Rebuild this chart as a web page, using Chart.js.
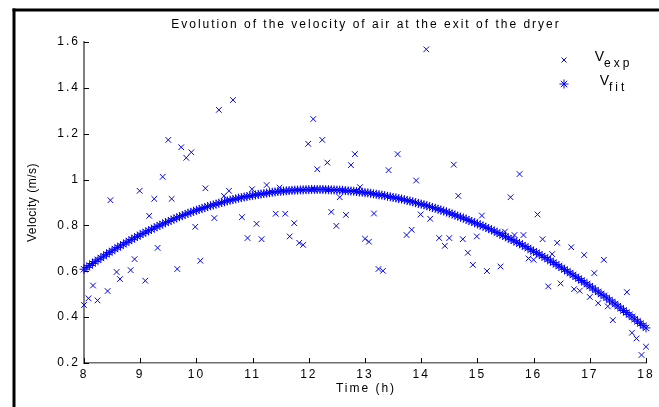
<!DOCTYPE html>
<html lang="en">
    <head>
        <meta charset="UTF-8" />
        <title>Evolution of the velocity of air at the exit of the dryer</title>
        <script src="https://cdn.jsdelivr.net/npm/chart.js"></script>
        <style>
            body { margin: 0; background: #fff; }
            canvas { display: block; }
        </style>
    </head>
    <body>
        <canvas id="velocidad" width="659" height="407"></canvas>

        <script>
            // Medidas experimentales (hora, velocidad en m/s)
            const horasExp = [
                8.00, 8.08, 8.16, 8.24, 8.42, 8.47, 8.58, 8.64, 8.83, 8.90,
                8.99, 9.09, 9.16, 9.25, 9.31, 9.40, 9.50, 9.56, 9.66, 9.73,
                9.82, 9.91, 9.98, 10.07, 10.16, 10.32, 10.40, 10.49, 10.58, 10.65,
                10.81, 10.91, 10.99, 11.07, 11.16, 11.25, 11.41, 11.48, 11.58, 11.66,
                11.74, 11.83, 11.90, 11.99, 12.08, 12.15, 12.24, 12.33, 12.40, 12.49,
                12.55, 12.66, 12.75, 12.82, 12.91, 13.00, 13.07, 13.16, 13.24, 13.32,
                13.42, 13.58, 13.74, 13.83, 13.91, 13.99, 14.09, 14.16, 14.32, 14.42,
                14.50, 14.58, 14.66, 14.74, 14.83, 14.92, 14.99, 15.08, 15.17, 15.41,
                15.49, 15.59, 15.66, 15.75, 15.82, 15.91, 16.00, 16.07, 16.16, 16.26,
                16.33, 16.42, 16.48, 16.67, 16.72, 16.82, 16.90, 17.00, 17.08, 17.15,
                17.25, 17.32, 17.41, 17.66, 17.75, 17.83, 17.92, 18.00
            ];
            const velExp = [
                0.453, 0.482, 0.538, 0.473, 0.514, 0.910, 0.597, 0.566, 0.605, 0.653,
                0.951, 0.559, 0.842, 0.916, 0.702, 1.012, 1.173, 0.916, 0.610, 1.141,
                1.095, 1.119, 0.794, 0.646, 0.962, 0.832, 1.304, 0.929, 0.951, 1.347,
                0.836, 0.745, 0.958, 0.807, 0.740, 0.976, 0.851, 0.965, 0.851, 0.752,
                0.810, 0.724, 0.715, 1.156, 1.264, 1.045, 1.173, 1.074, 0.859, 0.798,
                0.923, 0.846, 1.063, 1.111, 0.967, 0.742, 0.729, 0.852, 0.610, 0.602,
                1.041, 1.111, 0.758, 0.781, 0.996, 0.848, 1.568, 0.829, 0.745, 0.711,
                0.745, 1.065, 0.929, 0.740, 0.681, 0.628, 0.752, 0.843, 0.601, 0.621,
                0.773, 0.923, 0.758, 1.024, 0.758, 0.656, 0.650, 0.848, 0.740, 0.534,
                0.675, 0.724, 0.547, 0.705, 0.522, 0.515, 0.671, 0.488, 0.592, 0.461,
                0.650, 0.447, 0.387, 0.509, 0.332, 0.307, 0.235, 0.271
            ];

            // Curva ajustada, cada 3 minutos
            const horasAjuste = [
                8.00, 8.05, 8.10, 8.15, 8.20, 8.25, 8.30, 8.35, 8.40, 8.45, 8.50, 8.55, 8.60, 8.65, 8.70, 8.75, 8.80, 8.85, 8.90, 8.95,
                9.00, 9.05, 9.10, 9.15, 9.20, 9.25, 9.30, 9.35, 9.40, 9.45, 9.50, 9.55, 9.60, 9.65, 9.70, 9.75, 9.80, 9.85, 9.90, 9.95,
                10.00, 10.05, 10.10, 10.15, 10.20, 10.25, 10.30, 10.35, 10.40, 10.45, 10.50, 10.55, 10.60, 10.65, 10.70, 10.75, 10.80, 10.85, 10.90, 10.95,
                11.00, 11.05, 11.10, 11.15, 11.20, 11.25, 11.30, 11.35, 11.40, 11.45, 11.50, 11.55, 11.60, 11.65, 11.70, 11.75, 11.80, 11.85, 11.90, 11.95,
                12.00, 12.05, 12.10, 12.15, 12.20, 12.25, 12.30, 12.35, 12.40, 12.45, 12.50, 12.55, 12.60, 12.65, 12.70, 12.75, 12.80, 12.85, 12.90, 12.95,
                13.00, 13.05, 13.10, 13.15, 13.20, 13.25, 13.30, 13.35, 13.40, 13.45, 13.50, 13.55, 13.60, 13.65, 13.70, 13.75, 13.80, 13.85, 13.90, 13.95,
                14.00, 14.05, 14.10, 14.15, 14.20, 14.25, 14.30, 14.35, 14.40, 14.45, 14.50, 14.55, 14.60, 14.65, 14.70, 14.75, 14.80, 14.85, 14.90, 14.95,
                15.00, 15.05, 15.10, 15.15, 15.20, 15.25, 15.30, 15.35, 15.40, 15.45, 15.50, 15.55, 15.60, 15.65, 15.70, 15.75, 15.80, 15.85, 15.90, 15.95,
                16.00, 16.05, 16.10, 16.15, 16.20, 16.25, 16.30, 16.35, 16.40, 16.45, 16.50, 16.55, 16.60, 16.65, 16.70, 16.75, 16.80, 16.85, 16.90, 16.95,
                17.00, 17.05, 17.10, 17.15, 17.20, 17.25, 17.30, 17.35, 17.40, 17.45, 17.50, 17.55, 17.60, 17.65, 17.70, 17.75, 17.80, 17.85, 17.90, 17.95,
                18.00
            ];
            const velAjuste = [
                0.609, 0.617, 0.625, 0.634, 0.642, 0.650, 0.658, 0.666, 0.674, 0.682, 0.689, 0.697, 0.704, 0.711, 0.718, 0.725, 0.732, 0.739, 0.746, 0.752,
                0.759, 0.765, 0.771, 0.777, 0.783, 0.789, 0.795, 0.801, 0.806, 0.812, 0.817, 0.823, 0.828, 0.833, 0.838, 0.843, 0.848, 0.853, 0.857, 0.862,
                0.866, 0.870, 0.874, 0.878, 0.882, 0.886, 0.889, 0.893, 0.897, 0.900, 0.903, 0.907, 0.910, 0.913, 0.916, 0.919, 0.921, 0.924, 0.926, 0.929,
                0.931, 0.933, 0.935, 0.937, 0.939, 0.941, 0.943, 0.945, 0.946, 0.948, 0.949, 0.950, 0.951, 0.952, 0.953, 0.954, 0.954, 0.955, 0.955, 0.956,
                0.956, 0.957, 0.957, 0.957, 0.957, 0.957, 0.956, 0.956, 0.955, 0.955, 0.954, 0.954, 0.953, 0.952, 0.951, 0.950, 0.949, 0.948, 0.946, 0.945,
                0.943, 0.942, 0.940, 0.938, 0.936, 0.934, 0.932, 0.930, 0.927, 0.925, 0.922, 0.920, 0.917, 0.915, 0.912, 0.909, 0.906, 0.903, 0.899, 0.896,
                0.893, 0.890, 0.886, 0.882, 0.878, 0.875, 0.871, 0.867, 0.863, 0.859, 0.854, 0.850, 0.845, 0.841, 0.836, 0.832, 0.827, 0.822, 0.817, 0.812,
                0.807, 0.802, 0.797, 0.792, 0.786, 0.781, 0.775, 0.769, 0.763, 0.757, 0.751, 0.745, 0.739, 0.733, 0.727, 0.721, 0.714, 0.708, 0.701, 0.694,
                0.687, 0.681, 0.674, 0.667, 0.660, 0.653, 0.645, 0.638, 0.630, 0.623, 0.615, 0.608, 0.600, 0.592, 0.584, 0.576, 0.568, 0.560, 0.552, 0.544,
                0.535, 0.527, 0.518, 0.510, 0.501, 0.493, 0.484, 0.475, 0.466, 0.457, 0.448, 0.439, 0.429, 0.420, 0.411, 0.401, 0.391, 0.382, 0.372, 0.363,
                0.353
            ];

            const titulo = "Evolution of the velocity of air at the exit of the dryer";
            const tituloX = "Time (h)";
            const tituloY = "Velocity (m/s)";
            const leyenda = [
                { base: "V", sub: "exp", estilo: "crossRot", radio: 3.5 },
                { base: "V", sub: "fit", estilo: "star", radio: 4.5 },
            ];

            const azul = "#0000ff";
            const fuente = "'Liberation Sans', Arial, sans-serif";

            // Marco, ticks hacia dentro, títulos y leyenda
            const decoracion = {
                id: "decoracion",
                beforeDraw(chart) {
                    const ctx = chart.ctx;
                    ctx.save();
                    ctx.fillStyle = "#fff";
                    ctx.fillRect(0, 0, chart.width, chart.height);
                    ctx.fillStyle = "#000";
                    ctx.fillRect(12.5, 8.5, 3, chart.height);
                    ctx.fillRect(12.5, 8.5, chart.width, 3);
                    ctx.restore();
                    ctx.letterSpacing = "2px";
                },
                afterDraw(chart) {
                    const ctx = chart.ctx;
                    const area = chart.chartArea;
                    const sx = chart.scales.x;
                    const sy = chart.scales.y;
                    ctx.save();

                    ctx.strokeStyle = "#000";
                    ctx.lineWidth = 1;
                    ctx.beginPath();
                    sx.ticks.forEach((t) => {
                        const x = Math.round(sx.getPixelForValue(t.value)) + 0.5;
                        ctx.moveTo(x, area.bottom);
                        ctx.lineTo(x, area.bottom - 5);
                    });
                    sy.ticks.forEach((t) => {
                        const y = Math.round(sy.getPixelForValue(t.value)) + 0.5;
                        ctx.moveTo(area.left, y);
                        ctx.lineTo(area.left + 5, y);
                    });
                    ctx.stroke();

                    ctx.fillStyle = "#000";
                    ctx.textAlign = "center";
                    ctx.textBaseline = "middle";
                    ctx.letterSpacing = "2px";
                    ctx.font = "12px " + fuente;
                    const cx = (area.left + area.right) / 2;
                    ctx.fillText(titulo, cx + 1, 25);
                    ctx.fillText(tituloX, cx + 1, 389);

                    ctx.save();
                    ctx.letterSpacing = "0.5px";
                    ctx.translate(33, (area.top + area.bottom) / 2);
                    ctx.rotate(-Math.PI / 2);
                    ctx.fillText(tituloY, 0, 0);
                    ctx.restore();

                    // Leyenda con subíndices
                    ctx.textAlign = "left";
                    ctx.textBaseline = "alphabetic";
                    leyenda.forEach((item, i) => {
                        const y = 60 + i * 24;
                        ctx.strokeStyle = azul;
                        ctx.lineWidth = 1;
                        Chart.helpers.drawPoint(ctx, { pointStyle: item.estilo, radius: item.radio, borderWidth: 1 }, 564, y);

                        ctx.fillStyle = "#000";
                        ctx.letterSpacing = "0px";
                        ctx.font = "14px " + fuente;
                        const wBase = ctx.measureText(item.base).width;
                        ctx.letterSpacing = "3px";
                        ctx.font = "12px " + fuente;
                        const wSub = ctx.measureText(item.sub).width;
                        const x0 = 613.5 - (wBase + wSub) / 2;
                        ctx.letterSpacing = "0px";
                        ctx.font = "14px " + fuente;
                        ctx.fillText(item.base, x0, y + 1);
                        ctx.letterSpacing = "3px";
                        ctx.font = "12px " + fuente;
                        ctx.fillText(item.sub, x0 + wBase, y + 7);
                    });

                    ctx.restore();
                },
            };

            const ctx = document.getElementById("velocidad").getContext("2d");
            const chart = new Chart(ctx, {
                type: "scatter",
                data: {
                    datasets: [
                        {
                            label: "V exp",
                            data: horasExp.map((h, i) => ({ x: h, y: velExp[i] })),
                            pointStyle: "crossRot",
                            pointRadius: 4,
                            borderColor: azul,
                            backgroundColor: azul,
                            borderWidth: 1,
                            clip: false,
                        },
                        {
                            label: "V fit",
                            data: horasAjuste.map((h, i) => ({ x: h, y: velAjuste[i] })),
                            pointStyle: "star",
                            pointRadius: 4.5,
                            borderColor: azul,
                            backgroundColor: azul,
                            borderWidth: 1,
                            clip: false,
                        },
                    ],
                },
                options: {
                    responsive: false,
                    animation: false,
                    devicePixelRatio: 1,
                    layout: { padding: { top: 42, right: 13, left: 0, bottom: 0 } },
                    plugins: {
                        legend: { display: false },
                        title: { display: false },
                        tooltip: { enabled: false },
                    },
                    scales: {
                        x: {
                            type: "linear",
                            min: 8,
                            max: 18,
                            grid: { display: false, drawTicks: false },
                            border: { display: true, color: "#6e6e6e", width: 1.5 },
                            ticks: {
                                stepSize: 1,
                                autoSkip: false,
                                maxRotation: 0,
                                padding: 4,
                                color: "#000",
                                font: { family: fuente, size: 12 },
                            },
                            afterFit(scale) {
                                scale.height = 44;
                            },
                        },
                        y: {
                            min: 0.2,
                            max: 1.6,
                            grid: { display: false, drawTicks: false },
                            border: { display: true, color: "#808080", width: 2 },
                            ticks: {
                                stepSize: 0.2,
                                padding: 4,
                                color: "#000",
                                font: { family: fuente, size: 12 },
                                callback: (v) => String(Number(v.toFixed(1))),
                            },
                            afterFit(scale) {
                                scale.width = 84;
                            },
                        },
                    },
                },
                plugins: [decoracion],
            });
        </script>
    </body>
</html>
